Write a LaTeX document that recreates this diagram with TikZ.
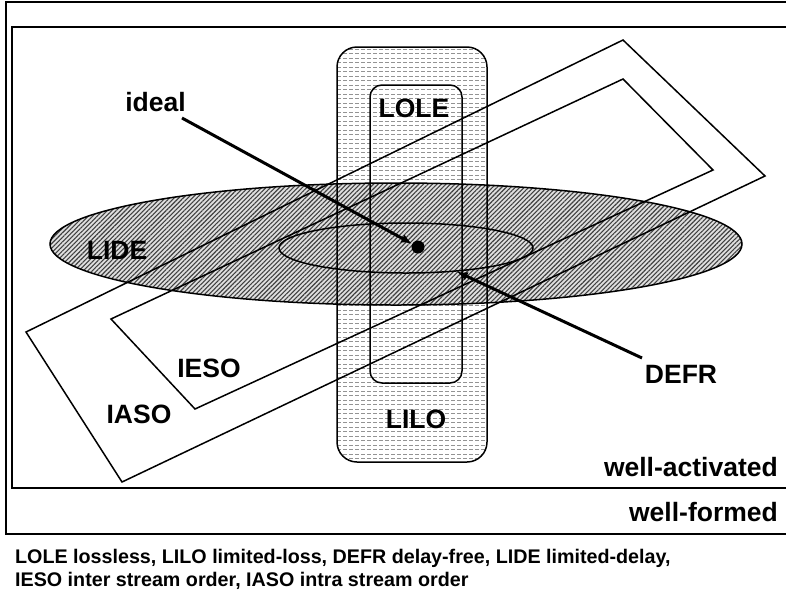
\documentclass[tikz,border=0pt]{standalone}
\usepackage{fontspec}
\setmainfont{Liberation Sans}
\usetikzlibrary{shapes.geometric,patterns.meta,arrows.meta}

\tikzset{
  outline/.style={draw=black, line width=1.5pt},
  framebox/.style={draw=black, line width=1.6pt},
  setlabel/.style={font=\fontsize{26.5}{30}\selectfont\bfseries, inner sep=0pt, anchor=base},
  caption/.style={font=\fontsize{19.7}{23.5}\selectfont\bfseries, inner sep=0pt, anchor=base west},
  pointer/.style={line width=3pt, -{Latex[length=11pt,width=9pt]}, shorten >=0pt},
  hatchfill/.style={fill=gray!25, postaction={pattern={Lines[angle=45,distance=3.2pt,line width=1.1pt]}, pattern color=black!75}},
  dashrow/.style={draw=gray!85, line width=0.8pt, dash pattern=on 4pt off 2pt},
}

\begin{document}
\begin{tikzpicture}[x=1pt, y=-1pt]
  \useasboundingbox (0,0) rectangle (786,603);
  \clip (0,0) rectangle (786,603);
  \fill[white] (0,0) rectangle (786,603);

  % outer frames: well-formed and well-activated
  \draw[framebox] (6,2) rectangle (800,534);
  \draw[framebox] (12,27) rectangle (800,488);

  % fills: loss region (dashed rows), then delay region (hatched)
  \begin{scope}
    \clip[rounded corners=20pt] (337,47) rectangle (487,462);
    \fill[white] (337,47) rectangle (487,462);
    \foreach \yy in {49,53.5,...,462}
      \draw[dashrow] (337,\yy) -- (487,\yy);
  \end{scope}
  \fill[hatchfill] (396,244) ellipse [x radius=346, y radius=61];

  % outlines of the regions
  \node[outline, rectangle, rounded corners=20pt, minimum width=150pt, minimum height=415pt, inner sep=0pt] (lilobox) at (412,254.5) {};
  \node[outline, rectangle, rounded corners=12pt, minimum width=92pt, minimum height=298pt, inner sep=0pt] (lolebox) at (416,234) {};
  \node[outline, ellipse, minimum width=692pt, minimum height=122pt, inner sep=0pt] (lideell) at (396,244) {};
  \node[outline, ellipse, minimum width=254pt, minimum height=50pt, inner sep=0pt] (defrell) at (406,248) {};

  % stream order regions
  \draw[outline] (26,332) -- (623,40) -- (765,176) -- (122,482) -- cycle;
  \draw[outline] (111,319) -- (623,79) -- (713,170) -- (195,409) -- cycle;

  % ideal point
  \node[circle, fill=black, minimum size=13pt, inner sep=0pt] (dot) at (418,247) {};

  % labels
  \node[setlabel] (ideal) at (155.5,111) {ideal};
  \node[setlabel] (lole) at (414,117) {LOLE};
  \node[setlabel] (lilo) at (416,428) {LILO};
  \node[setlabel] (lide) at (117,259) {LIDE};
  \node[setlabel] (ieso) at (209,377) {IESO};
  \node[setlabel] (iaso) at (139,423) {IASO};
  \node[setlabel] (defr) at (681,383) {DEFR};
  \node[setlabel, anchor=base east] (wellact) at (778,476) {well-activated};
  \node[setlabel, anchor=base east] (wellform) at (778,521) {well-formed};

  % pointers
  \coordinate (idealtail) at (182,118);
  \coordinate (defrtail) at (642,358);
  \draw[pointer] (idealtail) -- (dot);
  \draw[pointer] (defrtail) -- (defrell);

  % legend
  \node[caption] (legend1) at (15,563) {LOLE lossless, LILO limited-loss, DEFR delay-free, LIDE limited-delay,};
  \node[caption] (legend2) at (15,586) {IESO inter stream order, IASO intra stream order};
\end{tikzpicture}
\end{document}
